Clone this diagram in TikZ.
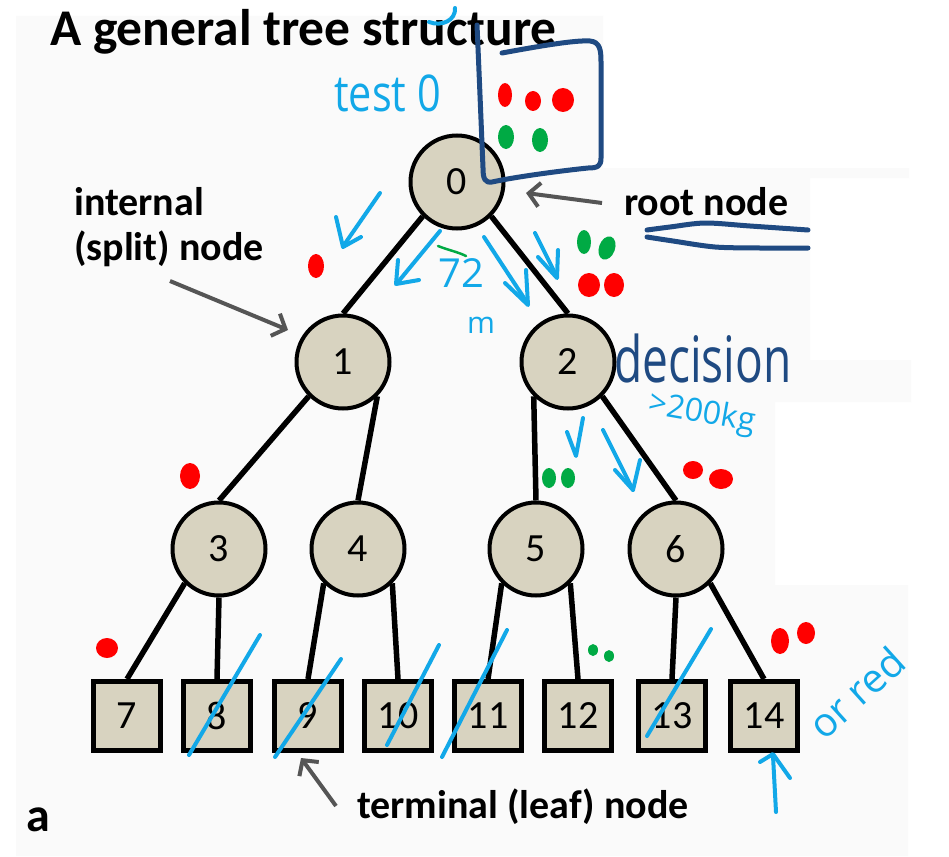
\documentclass[tikz,border=0pt]{standalone}
\usepackage{fontspec}
\setmainfont{Carlito}
\newfontfamily\handfont{Open Sans}
\usetikzlibrary{arrows.meta}
\definecolor{beige}{HTML}{D8D3C0}
\definecolor{panel}{HTML}{FAFAFA}
\definecolor{labelgray}{HTML}{555555}
\definecolor{hcyan}{HTML}{12A8E8}
\definecolor{hblue}{HTML}{1F4A82}
\definecolor{hred}{HTML}{FF0000}
\definecolor{hgreen}{HTML}{00AA44}
\tikzset{
  tnode/.style={circle, draw=black, line width=4pt, fill=beige, minimum size=93pt, inner sep=0pt, font=\fontsize{40}{48}\selectfont},
  leaf/.style={rectangle, draw=black, line width=5pt, fill=beige, minimum width=67pt, minimum height=69pt, inner sep=0pt, font=\fontsize{40}{48}\selectfont},
  edge/.style={line width=5.5pt, draw=black},
  lbl/.style={font=\bfseries\fontsize{40}{48}\selectfont, anchor=base west, inner sep=0pt},
  garrow/.style={draw=labelgray, line width=4pt, -{Straight Barb[length=11pt,width=24pt]}},
  cpen/.style={draw=hcyan, line width=4pt, line cap=round, line join=round},
  bpen/.style={draw=hblue, line width=5pt, line cap=round, line join=round},
  htext/.style={font=\handfont\fontsize{36}{40}\selectfont, inner sep=0pt},
}
\begin{document}
\begin{tikzpicture}[x=1pt, y=-1pt]
\useasboundingbox (0,0) rectangle (949,856);
\fill[white] (0,0) rectangle (949,856);
\fill[panel] (16,16) -- (603,16) -- (603,168) -- (909,168) -- (909,178) -- (810,178) -- (810,360) -- (911,360) -- (911,402) -- (775,402) -- (775,585) -- (908,585) -- (908,856) -- (16,856) -- cycle;

% title and labels
\node[lbl, font=\bfseries\fontsize{51.5}{60}\selectfont] (title) at (50,46) {A general tree structure};
\node[lbl] (int1) at (74,215) {internal};
\node[lbl] (int2) at (74,260) {(split) node};
\node[lbl] (rootlbl) at (624,215) {root node};
\node[lbl] (termlbl) at (357,818) {terminal (leaf) node};
\node[lbl, font=\bfseries\fontsize{48}{56}\selectfont] (panelA) at (26,831) {a};

% tree nodes
\node[tnode] (n0) at (457,182) {0};
\node[tnode] (n1) at (343,362) {1};
\node[tnode] (n2) at (568,362) {2};
\node[tnode] (n3) at (219,549) {3};
\node[tnode] (n4) at (358,549) {4};
\node[tnode] (n5) at (536,549) {5};
\node[tnode] (n6) at (676,549) {6};
\node[leaf] (l7) at (127,716) {7};
\node[leaf] (l8) at (217,716) {8};
\node[leaf] (l9) at (308,716) {9};
\node[leaf] (l10) at (398,716) {10};
\node[leaf] (l11) at (488,716) {11};
\node[leaf] (l12) at (578,716) {12};
\node[leaf] (l13) at (672,716) {13};
\node[leaf] (l14) at (764,716) {14};

% tree edges
\draw[edge] (n0.south west) -- (n1.north);
\draw[edge] (n0.south east) -- (n2.north);
\draw[edge] (n1.south west) -- (n3.north);
\draw[edge] (n1.south east) -- (n4.north);
\draw[edge] (n2.south west) -- (n5.north);
\draw[edge] (n2.south east) -- (n6.north);
\draw[edge] (n3.south west) -- (l7.north);
\draw[edge] (n3.south) -- (l8.north);
\draw[edge] (n4.south west) -- (l9.north);
\draw[edge] (n4.south east) -- (l10.north);
\draw[edge] (n5.south west) -- (l11.north);
\draw[edge] (n5.south east) -- (l12.north);
\draw[edge] (n6.south) -- (l13.north);
\draw[edge] (n6.south east) -- (l14.north);

% label arrows
\coordinate (rootA) at (602,203);
\coordinate (rootB) at (526,193);
\coordinate (intA) at (170,281);
\coordinate (intB) at (288,330);
\coordinate (termA) at (336,806);
\coordinate (termB) at (301,758);
\draw[garrow] (rootA) -- (rootB);
\draw[garrow] (intA) -- (intB);
\draw[garrow] (termA) -- (termB);

% ---- handwritten annotations ----
% hook at top
\draw[cpen] (455,8) .. controls (456,20) and (442,27) .. (429,22);
% "test 0"
\node[htext, text=hcyan, anchor=base west, font=\handfont\fontsize{46}{50}\selectfont] (t0) at (334,112) {\scalebox{0.9}[1.1]{test 0}};
% dark blue box with dots
\draw[bpen] (502,53) .. controls (540,46) and (575,40) .. (590,41) .. controls (600,42) and (601,50) .. (601,62) -- (601,158) .. controls (601,166) and (598,168) .. (588,168) .. controls (550,172) and (510,178) .. (492,182) .. controls (485,183) and (483,179) .. (483,168) .. controls (481,120) and (479,70) .. (477,25);
\fill[hred] (505,95) ellipse [x radius=7, y radius=12];
\fill[hred] (533,101) ellipse [x radius=8, y radius=10];
\fill[hred] (563,100) ellipse [x radius=11, y radius=12];
\fill[hgreen] (506,137) ellipse [x radius=8, y radius=12];
\fill[hgreen] (540,140) ellipse [x radius=8, y radius=12];
% underline of root node
\draw[bpen] plot[smooth] coordinates {(647,230) (670,227) (705,223) (750,226) (808,230)};
\draw[bpen] plot[smooth] coordinates {(647,237) (673,241) (715,247) (760,248) (808,248)};
% arrows under node 0
\draw[cpen] (380,193) -- (344,245);
\draw[cpen] (336,217) -- (343,247) -- (361,237);
\fill[hred] (316,266) ellipse [x radius=8, y radius=12];
\draw[cpen] (440,231) -- (398,282);
\draw[cpen] (398,260) -- (396,284) -- (419,280);
\draw[draw=hgreen, line width=2.5pt, line cap=round] (438,246) .. controls (448,250) and (458,252) .. (466,256);
\node[htext, text=hcyan, font=\handfont\fontsize{40}{44}\selectfont] (t72) at (461,273) {72};
\node[htext, text=hcyan, font=\handfont\fontsize{30}{34}\selectfont] (tm) at (481,325) {m};
\draw[cpen] (484,237) -- (528,304);
\draw[cpen] (505,283) -- (528,305) -- (526,270);
\draw[cpen] (535,233) -- (557,277);
\draw[cpen] (538,257) -- (557,278) -- (558,250);
\fill[hgreen] (584,242) ellipse [x radius=7, y radius=12];
\fill[hgreen, rotate around={-20:(607,248)}] (607,248) ellipse [x radius=8, y radius=12];
\fill[hred] (589,285) ellipse [x radius=11, y radius=12];
\fill[hred] (614,285) ellipse [x radius=10, y radius=12];
% decision
\node[inner sep=0pt, anchor=base west, text=hblue, font=\handfont\fontsize{64}{68}\selectfont] (tdec) at (614,382) {\scalebox{0.72}[1]{decision}};
\node[htext, text=hcyan, font=\handfont\fontsize{32}{36}\selectfont, rotate=-10] (t200) at (702,414) {>200kg};
% arrows under node 2
\draw[cpen] (583,418) -- (576,456) -- (567,432);
\draw[cpen] (603,430) -- (633,490);
\draw[cpen] (615,470) -- (633,490) -- (640,460);
\fill[hgreen] (549,478) ellipse [x radius=7, y radius=10];
\fill[hgreen] (568,478) ellipse [x radius=7, y radius=10];
\fill[hred] (693,470) ellipse [x radius=10, y radius=9];
\fill[hred] (721,479) ellipse [x radius=12, y radius=10];
\fill[hred] (190,476) ellipse [x radius=10, y radius=13];
\fill[hred] (107,648) ellipse [x radius=11, y radius=10];
\fill[hgreen] (593,650) ellipse [x radius=5, y radius=6];
\fill[hgreen] (609,656) ellipse [x radius=5, y radius=6];
\fill[hred] (780,641) ellipse [x radius=9, y radius=13];
\fill[hred] (806,633) ellipse [x radius=9, y radius=11];
% slashes across leaves
\draw[cpen] (260,635) -- (189,755);
\draw[cpen] (341,659) -- (275,757);
\draw[cpen] (439,645) -- (387,745);
\draw[cpen] (507,630) -- (442,757);
\draw[cpen] (711,629) -- (647,736);
% arrow under 14
\draw[cpen] (776,812) -- (773,756);
\draw[cpen] (760,762) -- (773,754) -- (790,778);
% "or red"
\node[htext, text=hcyan, font=\handfont\fontsize{40}{44}\selectfont, rotate=42, anchor=base west] (tred) at (824,742) {or red};
\end{tikzpicture}
\end{document}
